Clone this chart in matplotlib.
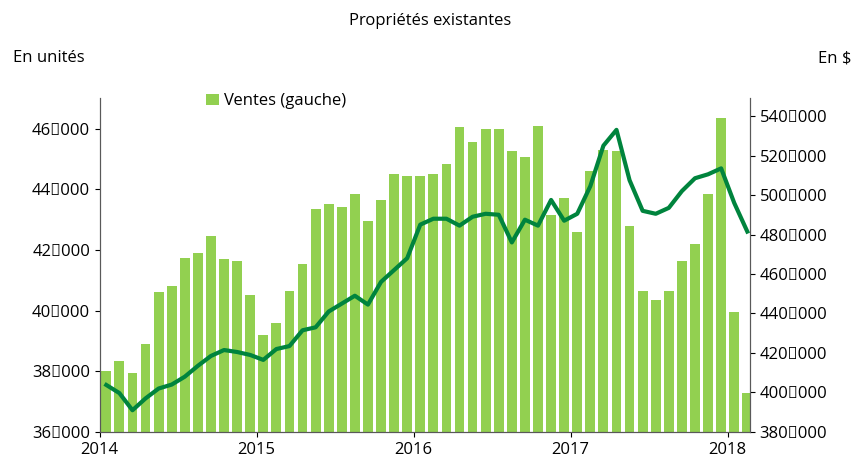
import matplotlib
matplotlib.use("Agg")
import matplotlib.pyplot as plt
import numpy as np

plt.rcParams["font.family"] = "Open Sans"

years = ["2014", "2015", "2016", "2017", "2018"]
sales = [38000, 38350, 37950, 38900, 40600, 40800, 41750, 41900, 42450, 41700, 41650, 40500,
         39200, 39600, 40650, 41550, 43350, 43500, 43400, 43850, 42950, 43650, 44500, 44450,
         44450, 44500, 44850, 46050, 45550, 46000, 46000, 45250, 45050, 46100, 43150, 43700,
         42600, 44600, 45300, 45250, 42800, 40650, 40350, 40650, 41650, 42200, 43850, 46350,
         39950, 37300]
price = [403800, 399700, 391000, 397000, 402000, 404000, 408000, 413500, 418500, 421500, 420500, 419000,
         416500, 422000, 423500, 431500, 433000, 441000, 445000, 449000, 444500, 456000, 462000, 468000,
         485000, 488000, 488000, 484500, 489000, 490500, 490000, 476000, 487500, 484500, 497500, 487000,
         490500, 504500, 525000, 533000, 507500, 492000, 490500, 493500, 502000, 508500, 510500, 513500,
         496000, 481500]

x = np.arange(len(sales)) + 0.5
fig = plt.figure(figsize=(8.6, 4.68), dpi=100)
ax = fig.add_axes([0.116, 0.077, 0.756, 0.713])
ax.bar(x, sales, width=0.75, color="#92d050", label="Ventes (gauche)", zorder=1)
ax.set_ylim(36000, 47000)
ax.set_yticks(range(36000, 46001, 2000))
ax.set_yticklabels([f"{v:,}".replace(",", "\u202f") for v in range(36000, 46001, 2000)], fontsize=12)
ax.set_xlim(0, 49.7)
ax.set_xticks([0, 12, 24, 36, 48])
ax.set_xticklabels(years, fontsize=12)
ax.spines["top"].set_visible(False)
for s in ["left", "right", "bottom"]:
    ax.spines[s].set_color("#595959")

ax2 = ax.twinx()
ax2.plot(x, price, color="#00843d", lw=3, zorder=3)
ax2.set_ylim(380000, 549000)
ax2.set_yticks(range(380000, 540001, 20000))
ax2.set_yticklabels([f"{v:,}".replace(",", "\u202f") for v in range(380000, 540001, 20000)], fontsize=12)
ax2.spines["top"].set_visible(False)
for s in ["left", "right", "bottom"]:
    ax2.spines[s].set_color("#595959")

ax.legend(loc="upper left", bbox_to_anchor=(0.14, 1.06), frameon=False, fontsize=12,
          handlelength=0.8, handletextpad=0.3)
fig.text(0.5, 0.955, "Propriétés existantes", ha="center", va="center", fontsize=12)
fig.text(0.015, 0.875, "En unités", ha="left", va="center", fontsize=12)
fig.text(0.99, 0.875, "En $", ha="right", va="center", fontsize=12)
fig.savefig("out.png", dpi=100)
